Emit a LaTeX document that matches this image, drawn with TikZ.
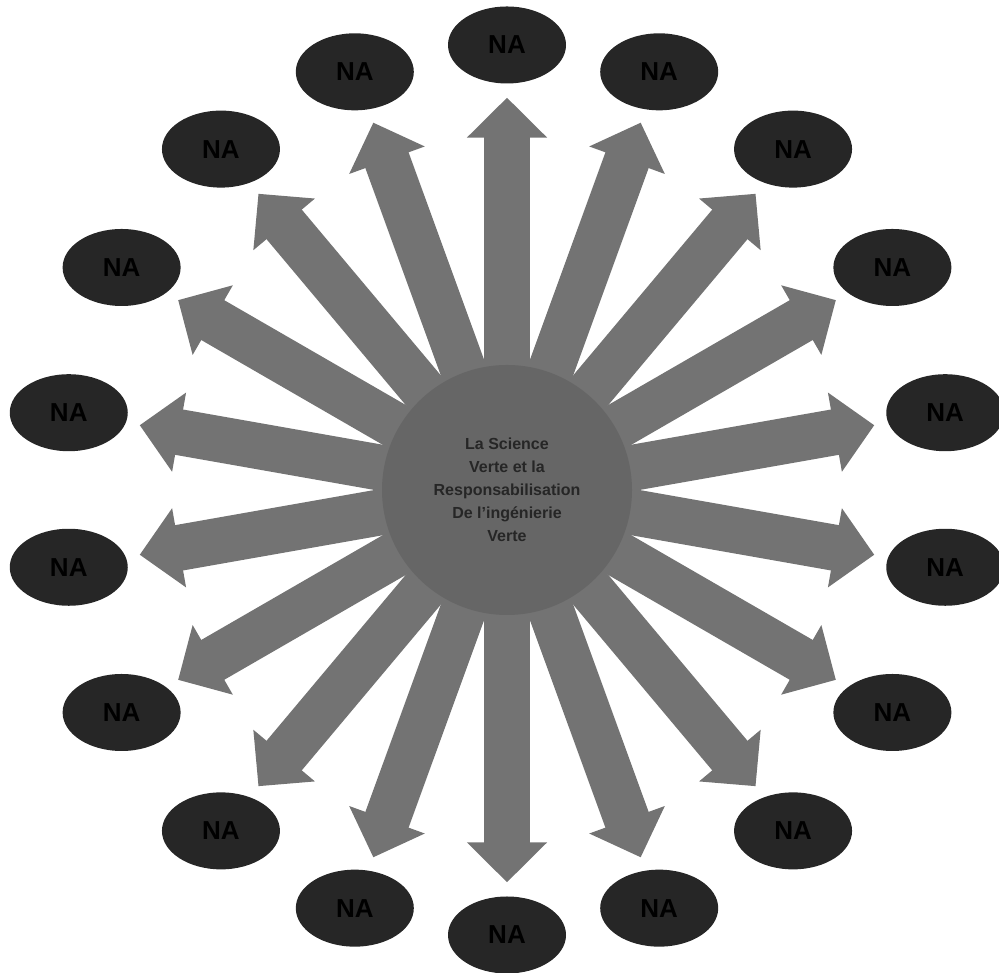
\documentclass[tikz,border=0pt]{standalone}
\usepackage{xcolor}
\usepackage{fontspec}
\setmainfont{Liberation Sans}
\usepackage{tikz}
\usetikzlibrary{arrows.meta, shapes, calc, backgrounds}

\tikzset{
  nabox/.style={ellipse, fill=black!85, minimum width=118pt, minimum height=77pt,
    inner sep=0pt, text=black, font=\bfseries\fontsize{26}{26}\selectfont},
  ray/.style={draw=black!55, line width=46pt,
    -{Triangle[length=40pt, width=78pt]}, shorten >=14pt},
  hub/.style={circle, fill=black!60, minimum size=250pt, align=center,
    text=black!85, font=\bfseries\fontsize{16}{23}\selectfont}
}

\begin{document}
\begin{tikzpicture}[x=1pt, y=1pt]
  \useasboundingbox (0,0) rectangle (999,973);

  \node[hub] (hub) at (507,483) {
    La Science \\
    Verte et la \\
    Responsabilisation \\
    De l'ingénierie \\
    Verte
  };

  % satellites, 20 degrees apart
  \foreach \i in {1,...,18} {
    \pgfmathsetmacro{\ang}{90-20*(\i-1)}
    \node[nabox] (na\i) at ($(hub.center)+(\ang:445)$) {NA};
  }

  \begin{scope}[on background layer]
    \foreach \i in {1,...,18}
      \draw[ray] (hub.center) -- (na\i);
  \end{scope}
\end{tikzpicture}
\end{document}
